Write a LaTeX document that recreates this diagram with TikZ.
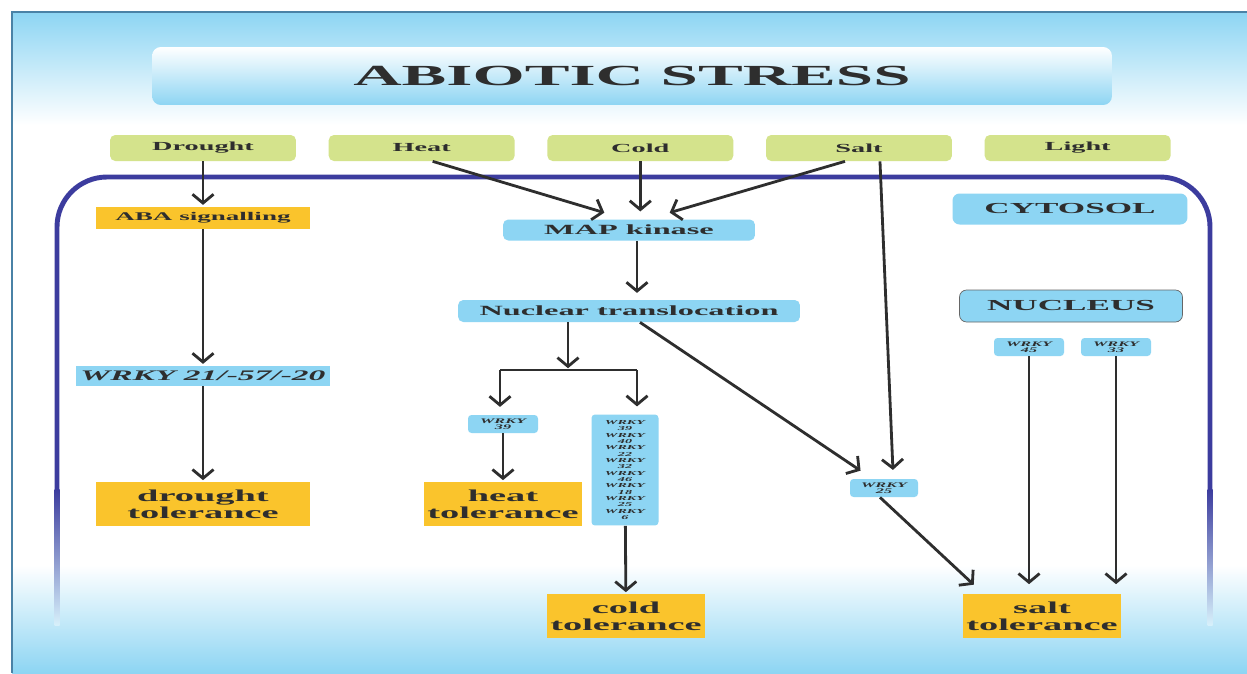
\documentclass[tikz,border=0pt]{standalone}
\usepackage{fontspec}
\setmainfont{Liberation Serif}[FakeStretch=2.3]
\usepackage{xcolor}
\usetikzlibrary{arrows.meta, positioning, calc}
\definecolor{skyblue}{HTML}{8DD5F3}
\definecolor{leafgreen}{HTML}{D4E38C}
\definecolor{amber}{HTML}{FAC42C}
\definecolor{cellblue}{HTML}{3C3C9E}
\definecolor{inkgray}{HTML}{2E2E2E}
\definecolor{framesteel}{HTML}{4A82A6}
\tikzset{
    baseblock/.style={rectangle, inner sep=0pt, align=center, text=inkgray},
    titleblock/.style={baseblock, rounded corners=5pt, top color=white, bottom color=skyblue, minimum width=19.2cm, minimum height=1.16cm, font=\fontsize{16.6}{18}\selectfont\bfseries},
    stressbox/.style={baseblock, fill=leafgreen, rounded corners=3pt, minimum width=3.72cm, minimum height=0.52cm, font=\fontsize{7}{8}\selectfont\bfseries},
    compbox/.style={baseblock, fill=skyblue, rounded corners=4pt, font=\fontsize{8.7}{10}\selectfont\bfseries},
    kinasebox/.style={baseblock, fill=skyblue, rounded corners=3pt, minimum height=0.42cm, font=\fontsize{8}{9}\selectfont\bfseries},
    signalbox/.style={baseblock, fill=amber, minimum width=4.3cm, minimum height=0.44cm, font=\fontsize{6.7}{8}\selectfont\bfseries},
    tolbox/.style={baseblock, fill=amber, minimum height=0.87cm, font=\fontsize{9.5}{9.6}\selectfont\bfseries},
    wrkybox/.style={baseblock, fill=skyblue, rounded corners=2pt, minimum width=1.4cm, minimum height=0.36cm, font=\fontsize{4}{3.4}\selectfont\bfseries\itshape},
    arrow/.style={line width=1.6pt, color=inkgray, -{Straight Barb[length=5pt, width=12pt]}, shorten >=1pt},
    line/.style={line width=1.6pt, color=inkgray}
}

\begin{document}
\begin{tikzpicture}[x=0.02cm, y=-0.02cm]
    \useasboundingbox (0,0) rectangle (1247,673);
    % backdrop
    \fill[white] (0,0) rectangle (1247,673);
    \shade[top color=skyblue, bottom color=white] (12,12) rectangle (1247,125);
    \shade[top color=white, bottom color=skyblue] (12,565) rectangle (1247,673);
    \draw[framesteel, line width=0.8pt] (12,673) -- (12,12) -- (1247,12);

    % cell membrane
    \draw[cellblue, line width=2.8pt, rounded corners=1cm] (57,490) -- (57,177) -- (1210,177) -- (1210,490);
    \shade[top color=cellblue, bottom color=skyblue!35] (54.5,489) rectangle (59.5,625);
    \shade[top color=cellblue, bottom color=skyblue!35] (1207.5,489) rectangle (1212.5,625);

    \node (title) [titleblock] at (632,76) {ABIOTIC STRESS};

    \node (drought) [stressbox] at (203,148) {Drought};
    \node (heat) [stressbox, right=0.64cm of drought] {Heat};
    \node (cold) [stressbox, right=0.64cm of heat] {Cold};
    \node (salt) [stressbox, right=0.64cm of cold] {Salt};
    \node (light) [stressbox, right=0.64cm of salt] {Light};

    \node (cytosol) [compbox, minimum width=4.7cm, minimum height=0.62cm] at (1070,209) {CYTOSOL};
    \node (nucleus) [compbox, draw=black!60, line width=0.4pt, minimum width=4.46cm, minimum height=0.64cm] at (1071,306) {NUCLEUS};
    \node (wrky45) [wrkybox] at (1029,347) {WRKY\\45};
    \node (wrky33) [wrkybox] at (1116,347) {WRKY\\33};

    \node (aba) [signalbox] at (203,218) {ABA signalling};
    \node (wrkyA) [baseblock, fill=skyblue, minimum width=5.08cm, minimum height=0.4cm, font=\fontsize{8.3}{9}\selectfont\bfseries\itshape] at (203,376) {WRKY 21/-57/-20};
    \node (droughttol) [tolbox, minimum width=4.3cm] at (203,504) {drought\\tolerance};

    \node (map) [kinasebox, minimum width=5.04cm] at (629,230) {MAP kinase};
    \node (nuclear) [kinasebox, minimum width=6.84cm, minimum height=0.44cm] at (629,311) {Nuclear translocation};
    \node (wrky39) [wrkybox] at (503,424) {WRKY\\39};
    \node (wrkylist) [wrkybox, minimum width=1.34cm, minimum height=2.22cm, font=\fontsize{3.5}{3.6}\selectfont\bfseries\itshape] at (625,470) {WRKY\\39\\WRKY\\40\\WRKY\\22\\WRKY\\32\\WRKY\\46\\WRKY\\18\\WRKY\\25\\WRKY\\6};
    \node (heattol) [tolbox, minimum width=3.18cm] at (503,504) {heat\\tolerance};
    \node (coldtol) [tolbox, minimum width=3.16cm] at (626,616) {cold\\tolerance};
    \node (wrky25) [wrkybox, minimum width=1.36cm] at (884,488) {WRKY\\25};
    \node (salttol) [tolbox, minimum width=3.16cm] at (1042,616) {salt\\tolerance};

    \coordinate (split) at (568,370);
    \coordinate (splitL) at (500,370);
    \coordinate (splitR) at (637,370);

    \draw [arrow] (drought) -- (aba);
    \draw [arrow] (aba) -- (wrkyA);
    \draw [arrow] (wrkyA) -- (droughttol);
    \draw [arrow] ($(heat.south)+(11,0)$) -- ($(map.north)+(-23,-6)$);
    \draw [arrow] (cold.south) -- ($(cold.south |- map.north)+(0,-6)$);
    \draw [arrow] ($(salt.south)+(-14,0)$) -- ($(map.north)+(39,-6)$);
    \draw [arrow] ($(salt.south)+(21,0)$) -- ($(wrky25.north)+(9,-7)$);
    \draw [arrow] ($(map.south)+(8,0)$) -- ($(nuclear.north)+(8,-5)$);
    \draw [arrow] (nuclear.south -| split) -- (split);
    \draw [line] (splitL) -- (splitR);
    \draw [arrow] (splitL) -- ($(splitL |- wrky39.north)+(0,-6)$);
    \draw [arrow] (splitR) -- ($(splitR |- wrkylist.north)+(0,-6)$);
    \draw [arrow] ($(nuclear.south)+(11,0)$) -- ($(wrky25.north)+(-22,-7)$);
    \draw [arrow] (wrky39) -- (heattol);
    \draw [arrow] (wrkylist) -- (coldtol);
    \draw [arrow] ($(wrky25.south)+(-4,0)$) -- ($(salttol.north)+(-67,-8)$);
    \draw [arrow] (wrky45.south) -- ($(wrky45.south |- salttol.north)+(0,-8)$);
    \draw [arrow] (wrky33.south) -- ($(wrky33.south |- salttol.north)+(0,-8)$);
\end{tikzpicture}
\end{document}
